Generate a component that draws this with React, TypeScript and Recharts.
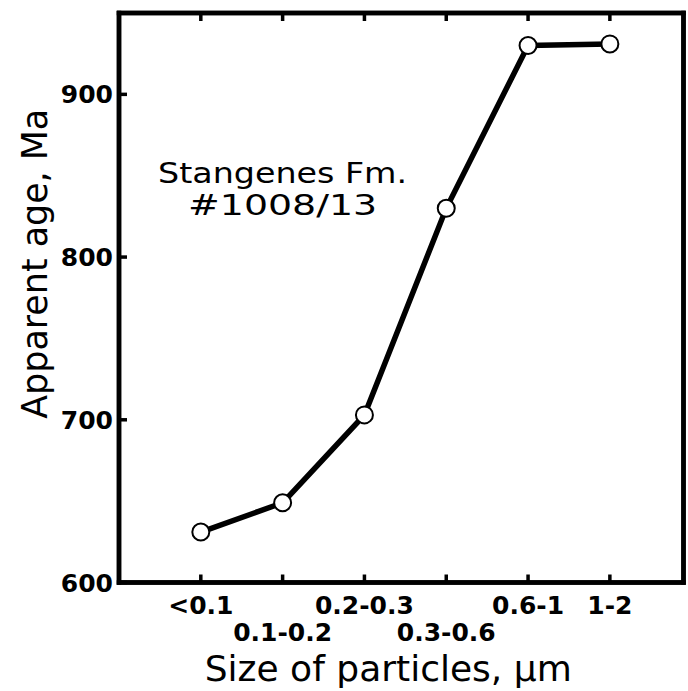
import { LineChart, Line, XAxis, YAxis, ReferenceDot, ReferenceArea, Label } from "recharts";

// particle size classes, in plotting order
const sizeLabels = ["<0.1", "0.1-0.2", "0.2-0.3", "0.3-0.6", "0.6-1", "1-2"];
const sizePositions = [1, 2, 3, 4, 5, 6];
// labels pushed down to a second row so they don't collide
const lowerRow = [false, true, false, true, false, false];
// apparent K-Ar age, Ma
const apparentAges = [631, 649, 703, 830, 930, 931];
const ageTicks = [600, 700, 800, 900];

const X_DOMAIN: [number, number] = [0, 6.9];
const Y_DOMAIN: [number, number] = [600, 950];

const data = sizePositions.map((pos, i) => ({
  pos,
  size: sizeLabels[i],
  age: apparentAges[i],
}));

const FONT = "'DejaVu Sans', sans-serif";
const TICK_LEN = 8;
const axisStyle = { stroke: "#000", strokeWidth: 4.5, strokeLinecap: "square" as const };
const labelStyle = { fontFamily: FONT, fontWeight: "bold", fontSize: 25, fill: "#000" };

// ticks point into the plot, so they are drawn here rather than by tickLine
function BottomTick(props: any) {
  const { x, y, payload } = props;
  const i = sizePositions.indexOf(payload.value);
  if (i < 0) return null;
  return (
    <g>
      <line x1={x} x2={x} y1={y} y2={y - TICK_LEN} stroke="#000" strokeWidth={3.5} />
      <text x={x} y={y + (lowerRow[i] ? 58 : 31)} textAnchor="middle" {...labelStyle}>
        {sizeLabels[i]}
      </text>
    </g>
  );
}

function TopTick(props: any) {
  const { x, y } = props;
  return <line x1={x} x2={x} y1={y} y2={y + TICK_LEN} stroke="#000" strokeWidth={3.5} />;
}

function LeftTick(props: any) {
  const { x, y, payload } = props;
  return (
    <g>
      <line x1={x} x2={x + TICK_LEN} y1={y} y2={y} stroke="#000" strokeWidth={3.5} />
      <text x={x - 6} y={y} dy="0.36em" textAnchor="end" {...labelStyle}>
        {payload.value}
      </text>
    </g>
  );
}

function RightTick(props: any) {
  const { x, y } = props;
  return <line x1={x} x2={x - TICK_LEN} y1={y} y2={y} stroke="#000" strokeWidth={3.5} />;
}

function XTitle(props: any) {
  const { x, y, width } = props.viewBox;
  return (
    <text
      x={x + width / 2 - 13}
      y={y + 98.5}
      textAnchor="middle"
      textLength={367}
      lengthAdjust="spacingAndGlyphs"
      fontFamily={FONT}
      fontSize={35}
      fill="#000"
    >
      Size of particles, µm
    </text>
  );
}

function YTitle(props: any) {
  const { y, height } = props.viewBox;
  const cx = 47;
  const cy = y + height / 2 - 34;
  return (
    <text
      x={cx}
      y={cy}
      transform={`rotate(-90, ${cx}, ${cy})`}
      textAnchor="middle"
      textLength={310}
      lengthAdjust="spacingAndGlyphs"
      fontFamily={FONT}
      fontSize={35}
      fill="#000"
    >
      Apparent age, Ma
    </text>
  );
}

function SampleNote(props: any) {
  const { x, y } = props.viewBox;
  return (
    <g fontFamily={FONT} fontSize={28} fill="#000">
      <text x={x} y={y} textAnchor="middle" textLength={249} lengthAdjust="spacingAndGlyphs">
        Stangenes Fm.
      </text>
      <text x={x} y={y + 32} textAnchor="middle" textLength={189} lengthAdjust="spacingAndGlyphs">
        #1008/13
      </text>
    </g>
  );
}

export default function App() {
  return (
    <div style={{ position: "fixed", left: 0, top: 0, width: 688, height: 691, background: "#fff" }}>
      <LineChart width={688} height={691} data={data} margin={{ top: 12, right: 3.5, bottom: 0, left: 0 }}>
        <XAxis
          xAxisId="bottom"
          dataKey="pos"
          type="number"
          domain={X_DOMAIN}
          ticks={sizePositions}
          interval={0}
          height={108.5}
          axisLine={axisStyle}
          tickLine={false}
          tickSize={0}
          tickMargin={0}
          tick={<BottomTick />}
        >
          <Label content={<XTitle />} />
        </XAxis>
        <XAxis
          xAxisId="top"
          orientation="top"
          dataKey="pos"
          type="number"
          domain={X_DOMAIN}
          ticks={sizePositions}
          interval={0}
          height={1}
          axisLine={axisStyle}
          tickLine={false}
          tickSize={0}
          tickMargin={0}
          tick={<TopTick />}
        />
        <YAxis
          yAxisId="left"
          type="number"
          domain={Y_DOMAIN}
          ticks={ageTicks}
          interval={0}
          width={119}
          axisLine={axisStyle}
          tickLine={false}
          tickSize={0}
          tickMargin={0}
          tick={<LeftTick />}
        >
          <Label content={<YTitle />} />
        </YAxis>
        <YAxis
          yAxisId="right"
          orientation="right"
          type="number"
          domain={Y_DOMAIN}
          ticks={ageTicks}
          interval={0}
          width={1}
          axisLine={axisStyle}
          tickLine={false}
          tickSize={0}
          tickMargin={0}
          tick={<RightTick />}
        />
        {/* closed frame round the plot */}
        <ReferenceArea
          xAxisId="bottom"
          yAxisId="left"
          x1={X_DOMAIN[0]}
          x2={X_DOMAIN[1]}
          y1={Y_DOMAIN[0]}
          y2={Y_DOMAIN[1]}
          fill="none"
          fillOpacity={0}
          stroke="#000"
          strokeWidth={4.5}
          ifOverflow="visible"
        />
        <ReferenceDot
          xAxisId="bottom"
          yAxisId="left"
          x={2.0}
          y={845.5}
          r={0}
          stroke="none"
          fill="none"
          label={<SampleNote />}
        />
        <Line
          xAxisId="bottom"
          yAxisId="left"
          type="linear"
          dataKey="age"
          stroke="#000"
          strokeWidth={5.5}
          dot={{ r: 8.5, fill: "#fff", stroke: "#000", strokeWidth: 2 }}
          isAnimationActive={false}
        />
      </LineChart>
    </div>
  );
}
